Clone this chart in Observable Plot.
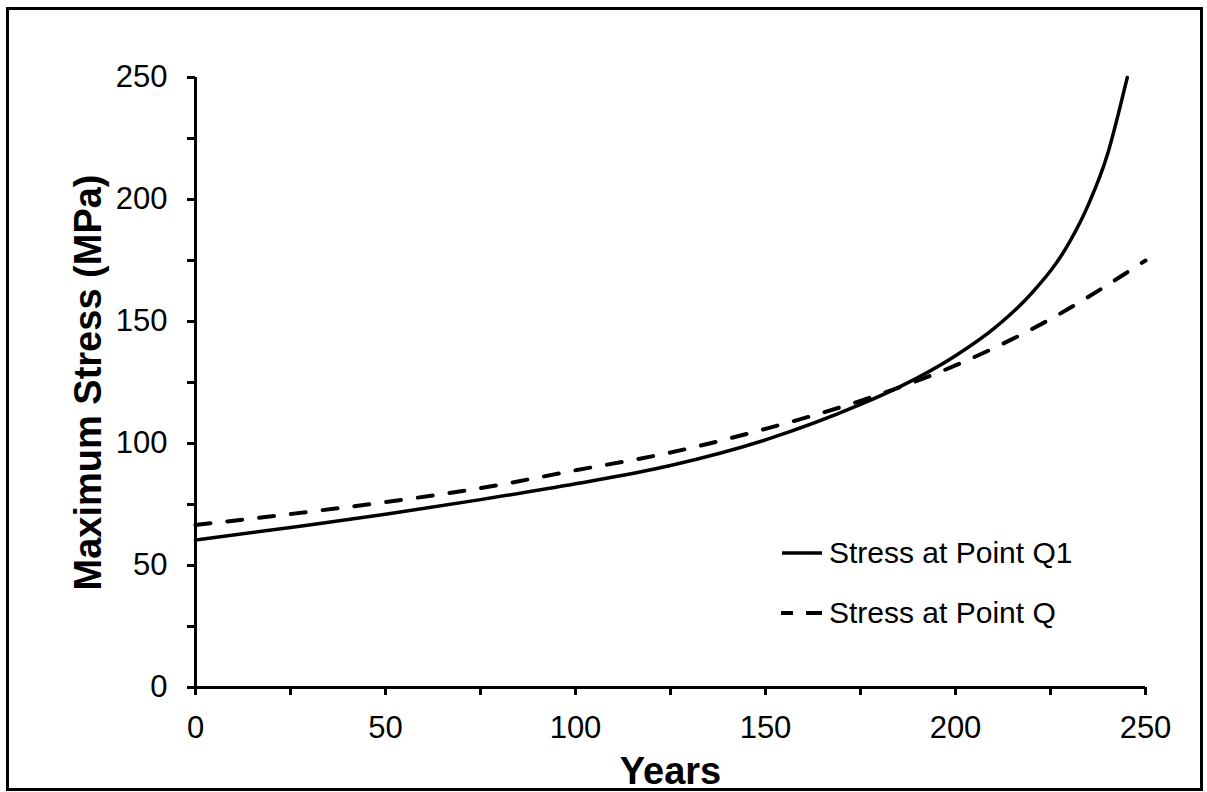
<!DOCTYPE html>
<html>
<head>
<meta charset="utf-8">
<script src="https://cdn.jsdelivr.net/npm/d3@7"></script>
<script src="https://cdn.jsdelivr.net/npm/@observablehq/plot@0.6"></script>
<style>
  html, body { margin: 0; padding: 0; background: #fff; }
  #wrap { position: relative; width: 1207px; height: 792px; font-family: "Liberation Sans", Arial, sans-serif; }
  #frame { position: absolute; left: 6px; top: 7px; width: 1197px; height: 784px; box-sizing: border-box; border: 3px solid #000; pointer-events: none; }
  #chart { position: absolute; left: 0; top: 0; }
  #legend { position: absolute; left: 0; top: 0; }
</style>
</head>
<body>
<div id="wrap">
  <div id="chart"></div>
  <svg id="legend" width="1207" height="792"></svg>
  <div id="frame"></div>
</div>
<script>
// ---- data ----
const yearsQ1 = [0, 25, 50, 75, 100, 125, 150, 175, 185, 200, 210, 220, 230, 235, 240, 243, 245.2];
const stressQ1 = [60.4, 65.6, 71, 77, 83.5, 91, 101.5, 116, 123, 136, 147, 161.5, 182.5, 198, 218.5, 236, 250];
const yearsQ = [0, 25, 50, 75, 100, 125, 150, 175, 200, 225, 250];
const stressQ = [66.6, 71.1, 76, 81.7, 89, 96.3, 106, 117.5, 132, 151, 175];
const seriesNames = ["Stress at Point Q1", "Stress at Point Q"];
const xTicks = [0, 25, 50, 75, 100, 125, 150, 175, 200, 225, 250];
const yTicks = [0, 25, 50, 75, 100, 125, 150, 175, 200, 225, 250];
const labelledTicks = [0, 50, 100, 150, 200, 250];
const xTitle = "Years";
const yTitle = "Maximum Stress (MPa)";

const q1 = yearsQ1.map((x, i) => ({x, y: stressQ1[i]}));
const q = yearsQ.map((x, i) => ({x, y: stressQ[i]}));
const fmt = d => labelledTicks.includes(d) ? String(d) : "";

const chart = Plot.plot({
  width: 1207,
  height: 792,
  marginLeft: 195,
  marginRight: 62,
  marginTop: 77,
  marginBottom: 105,
  x: {domain: [0, 250]},
  y: {domain: [0, 250]},
  style: {fontFamily: "'Liberation Sans', Arial, sans-serif", fontSize: "31px", color: "#000", background: "transparent", overflow: "visible"},
  marks: [
    Plot.axisX({ticks: xTicks, tickSize: 8, tickPadding: 20, strokeWidth: 3, tickFormat: fmt, label: null, fontSize: 31}),
    Plot.axisY({ticks: yTicks, tickSize: 8, tickPadding: 20, strokeWidth: 3, tickFormat: fmt, label: null, fontSize: 31}),
    Plot.ruleX([0], {strokeWidth: 3}),
    Plot.ruleY([0], {strokeWidth: 3}),
    Plot.line(q1, {x: "x", y: "y", curve: "monotone-x", stroke: "#000", strokeWidth: 3.5}),
    Plot.line(q, {x: "x", y: "y", curve: "monotone-x", stroke: "#000", strokeWidth: 4, strokeDasharray: "15,17", strokeLinecap: "round"}),
    Plot.text([xTitle], {frameAnchor: "bottom", dy: 96, lineAnchor: "bottom", fontWeight: "bold", fontSize: 38, fill: "#000"}),
    Plot.text([yTitle], {frameAnchor: "left", dx: -107, rotate: -90, textAnchor: "middle", fontWeight: "bold", fontSize: 38, fill: "#000"})
  ]
});
document.getElementById("chart").appendChild(chart);

// ---- legend ----
const lg = d3.select("#legend");
const items = [
  {name: seriesNames[0], y: 553, dash: null},
  {name: seriesNames[1], y: 613, dash: "12,13,16"}
];
items.forEach(it => {
  const ln = lg.append("line").attr("x1", 782).attr("x2", 822).attr("y1", it.y).attr("y2", it.y)
    .attr("stroke", "#000").attr("stroke-width", it.dash ? 4 : 3.5);
  if (it.dash) ln.attr("stroke-dasharray", it.dash).attr("stroke-linecap", "butt").attr("x1", 781).attr("x2", 822);
  lg.append("text").attr("x", 829).attr("y", it.y + 10).attr("font-size", 30)
    .attr("font-family", "'Liberation Sans', Arial, sans-serif").attr("fill", "#000").text(it.name);
});
</script>
</body>
</html>
